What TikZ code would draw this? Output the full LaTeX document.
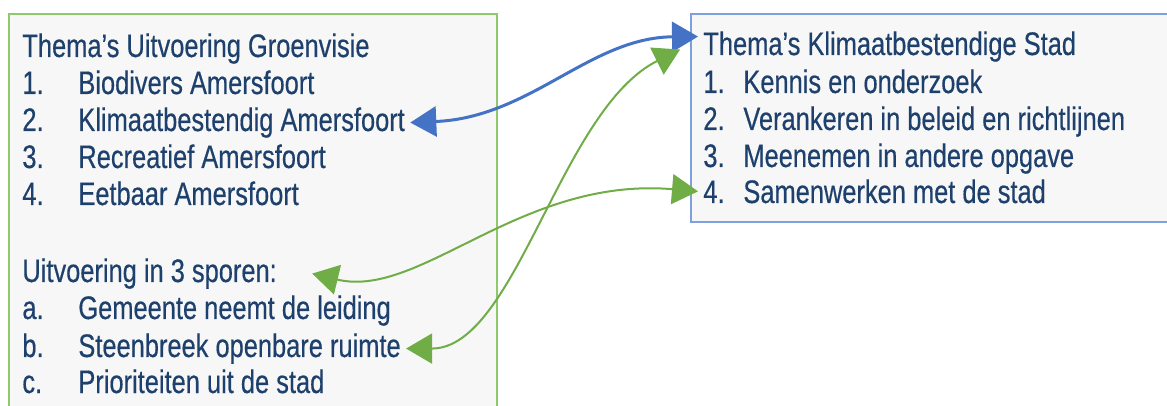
\documentclass[tikz,border=0pt]{standalone}
\usepackage{fontspec}
\setmainfont{Liberation Sans}[FakeStretch=0.78, FakeBold=0.4]
\usetikzlibrary{arrows.meta}
\definecolor{textblue}{RGB}{30,64,108}
\definecolor{framegreen}{RGB}{143,201,107}
\definecolor{frameblue}{RGB}{126,159,224}
\definecolor{boxgray}{RGB}{247,247,247}
\definecolor{arrowblue}{RGB}{68,114,196}
\definecolor{arrowgreen}{RGB}{112,173,71}
\newcommand{\itm}[3][28pt]{\makebox[#1][l]{#2}#3}

\begin{document}
\begin{tikzpicture}[x=0.5pt, y=-0.5pt,
  txt/.style={anchor=base west, inner sep=2.5pt, text=textblue,
    font=\fontsize{16.3pt}{18.5pt}\selectfont},
  link/.style={{Triangle[length=13pt,width=15pt]}-{Triangle[length=13pt,width=15pt]}, line join=round},
  ]
  \clip (0,0) rectangle (1167,406);
  % frames
  \filldraw[fill=boxgray, draw=framegreen, line width=1pt] (9,14) rectangle (497,430);
  \filldraw[fill=boxgray, draw=frameblue, line width=1pt] (691,14) rectangle (1180,222);

  % Groenvisie
  \node[txt] (themaL) at (17,57) {Thema’s Uitvoering Groenvisie};
  \node[txt] (biodivers) at (17,94) {\itm{1.}{Biodivers Amersfoort}};
  \node[txt] (klimaat) at (17,131) {\itm{2.}{Klimaatbestendig Amersfoort}};
  \node[txt] (recreatief) at (17,168) {\itm{3.}{Recreatief Amersfoort}};
  \node[txt] (eetbaar) at (17,205) {\itm{4.}{Eetbaar Amersfoort}};

  \node[txt] (sporen) at (17,282) {Uitvoering in 3 sporen:};
  \node[txt] (gemeente) at (17,319) {\itm{a.}{Gemeente neemt de leiding}};
  \node[txt] (steen) at (17,357) {\itm{b.}{Steenbreek openbare ruimte}};
  \node[txt] (prio) at (17,393) {\itm{c.}{Prioriteiten uit de stad}};

  % Klimaatbestendige stad
  \node[txt] (themaR) at (698,55) {Thema’s Klimaatbestendige Stad};
  \node[txt] (kennis) at (698,93) {\itm[20pt]{1.}{Kennis en onderzoek}};
  \node[txt] (beleid) at (698,130) {\itm[20pt]{2.}{Verankeren in beleid en richtlijnen}};
  \node[txt] (opgave) at (698,167) {\itm[20pt]{3.}{Meenemen in andere opgave}};
  \node[txt] (samen) at (698,203) {\itm[20pt]{4.}{Samenwerken met de stad}};

  % links
  \draw[link, arrowblue, line width=1.5pt] (klimaat.east)
    .. controls +(120,-5) and +(-108,1) .. ([yshift=5pt]themaR.west);
  \draw[link, arrowgreen, line width=1pt] ([xshift=15pt]sporen.east)
    .. controls +(108,26) and +(-178,-15) .. (samen.west);
  \draw[link, arrowgreen, line width=1pt, shorten >=10pt] (steen.east)
    .. controls +(110,0) and +(-138,69) .. ([yshift=3pt]themaR.west);
\end{tikzpicture}
\end{document}
